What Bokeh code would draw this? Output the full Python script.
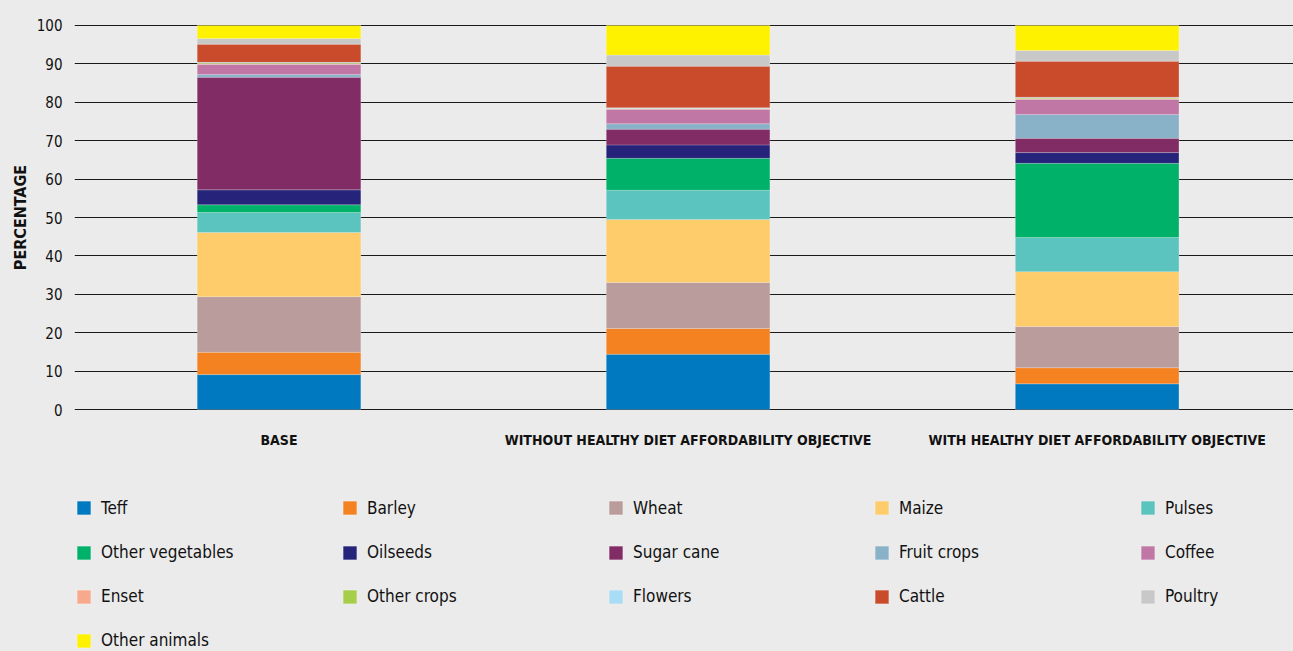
from bokeh.plotting import figure
from bokeh.layouts import column
from bokeh.models import ColumnDataSource, Range1d, FixedTicker, Legend, LegendItem
from bokeh.embed import file_html
from bokeh.resources import INLINE

# ---------------- data ----------------
scenarios = ["BASE",
             "WITHOUT HEALTHY DIET AFFORDABILITY OBJECTIVE",
             "WITH HEALTHY DIET AFFORDABILITY OBJECTIVE"]
crops = ["Teff", "Barley", "Wheat", "Maize", "Pulses", "Other vegetables",
         "Oilseeds", "Sugar cane", "Fruit crops", "Coffee", "Enset",
         "Other crops", "Flowers", "Cattle", "Poultry", "Other animals"]

teff             = [9.1, 14.4, 6.7]
barley           = [5.8, 6.7, 4.2]
wheat            = [14.5, 12.0, 10.7]
maize            = [16.7, 16.4, 14.3]
pulses           = [5.2, 7.6, 8.9]
other_vegetables = [2.0, 8.3, 19.3]
oilseeds         = [3.9, 3.5, 2.8]
sugar_cane       = [29.3, 4.1, 3.7]
fruit_crops      = [0.7, 1.4, 6.2]
coffee           = [2.7, 3.8, 4.0]
enset            = [0.1, 0.1, 0.1]
other_crops      = [0.2, 0.1, 0.2]
flowers          = [0.2, 0.2, 0.2]
cattle           = [4.7, 10.8, 9.4]
poultry          = [1.5, 2.9, 2.8]
other_animals    = [3.4, 7.7, 6.5]

colors = ["#0079C1", "#F58220", "#BA9C9D", "#FECC6A", "#5BC4BF", "#00B16A",
          "#26237A", "#822C66", "#89B1C7", "#C077A5", "#F9A98B", "#A6CE49",
          "#A8DDF5", "#CA4B2B", "#C8C8C8", "#FFF200"]

y_ticks = list(range(0, 101, 10))

series = [teff, barley, wheat, maize, pulses, other_vegetables, oilseeds,
          sugar_cane, fruit_crops, coffee, enset, other_crops, flowers,
          cattle, poultry, other_animals]

# ---------------- styling ----------------
FONT = "'DejaVu Sans Condensed', 'Roboto Condensed', 'Liberation Sans Narrow', Roboto, sans-serif"
BG = "#EBEBEB"
INK = "#111111"
W = 1293
H_CHART = 462
H_LEGEND = 189

positions = list(range(len(scenarios)))
data = {"x": positions}
for name, vals in zip(crops, series):
    data[name] = vals
src = ColumnDataSource(data)

# ---------------- chart ----------------
p = figure(width=W, height=H_CHART, output_backend="svg", toolbar_location=None,
           x_range=Range1d(-0.5, 2.48), y_range=Range1d(-0.5, 100.5),
           min_border_left=74, min_border_right=0, min_border_top=23,
           min_border_bottom=51)
p.background_fill_color = BG
p.border_fill_color = BG
p.outline_line_color = None

renderers = p.vbar_stack(crops, x="x", width=0.4, source=src, color=colors,
                         line_color="white", line_alpha=0.35, line_width=0.6)

p.xgrid.grid_line_color = None
p.ygrid.ticker = FixedTicker(ticks=y_ticks)
p.ygrid.grid_line_color = "#1a1a1a"
p.ygrid.grid_line_width = 1

ya = p.yaxis[0]
ya.ticker = FixedTicker(ticks=y_ticks)
ya.axis_line_color = None
ya.major_tick_line_color = None
ya.minor_tick_line_color = None
ya.major_tick_in = 0
ya.major_tick_out = 0
ya.major_label_standoff = 12
ya.major_label_text_font = FONT
ya.major_label_text_font_size = "15px"
ya.major_label_text_color = INK
ya.axis_label = "PERCENTAGE"
ya.axis_label_text_font = FONT
ya.axis_label_text_font_style = "bold"
ya.axis_label_text_font_size = "16px"
ya.axis_label_text_color = INK
ya.axis_label_standoff = 4

xa = p.xaxis[0]
xa.ticker = FixedTicker(ticks=positions)
xa.major_label_overrides = {i: s for i, s in zip(positions, scenarios)}
xa.axis_line_color = None
xa.major_tick_line_color = None
xa.minor_tick_line_color = None
xa.major_tick_in = 0
xa.major_tick_out = 0
xa.major_label_standoff = 20
xa.major_label_text_font = FONT
xa.major_label_text_font_style = "bold"
xa.major_label_text_font_size = "14px"
xa.major_label_text_color = INK

# ---------------- legend panel ----------------
q = figure(width=W, height=H_LEGEND, output_backend="svg", toolbar_location=None,
           x_range=Range1d(10, 11), y_range=Range1d(10, 11),
           x_axis_location=None, y_axis_location=None,
           min_border=0)
q.background_fill_alpha = 0
q.border_fill_color = BG
q.outline_line_color = None
q.xgrid.grid_line_color = None
q.ygrid.grid_line_color = None
# same stacked bars, hidden in this panel, feed the legend swatches
leg_renderers = q.vbar_stack(crops, x="x", width=0.4, source=src, color=colors,
                             line_color="white", line_alpha=0.35, line_width=0.6)
for rr in leg_renderers:
    rr.visible = False

n_per_row = 5
n_rows = (len(crops) + n_per_row - 1) // n_per_row
row_vy = [133.5, 89, 45, 1]     # screen px from the panel bottom
for r in range(n_rows):
    idx = list(range(r * n_per_row, min((r + 1) * n_per_row, len(crops))))
    items = [LegendItem(label=crops[i], renderers=[leg_renderers[i]]) for i in idx]
    lg = Legend(items=items, orientation="horizontal", location=(1, row_vy[r]),
                glyph_width=17, glyph_height=17, label_standoff=9,
                label_width=150, label_height=20, spacing=90,
                padding=0, margin=0,
                label_text_font=FONT, label_text_font_size="17px",
                label_text_color=INK,
                inactive_fill_alpha=0,
                border_line_color=None, background_fill_alpha=0)
    q.add_layout(lg, "center")

layout = column(p, q, spacing=0)

html = file_html(layout, INLINE)
html = html.replace("<head>", "<head><style>html,body{background:#EBEBEB;}</style>", 1)
open("out.html", "w").write(html)
